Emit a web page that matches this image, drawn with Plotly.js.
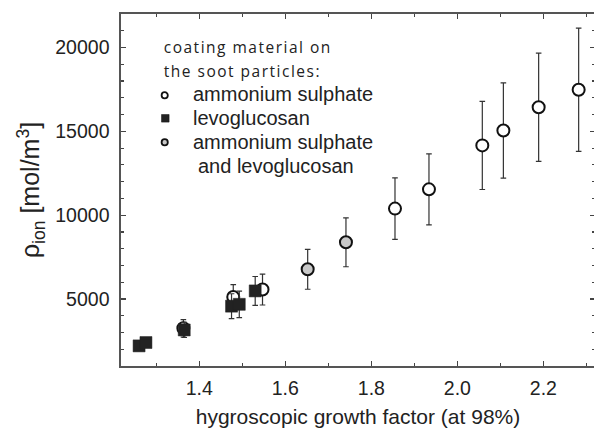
<!DOCTYPE html>
<html>
<head>
<meta charset="utf-8">
<script src="https://cdn.plot.ly/plotly-3.0.1.min.js"></script>
<style>
html, body { margin: 0; padding: 0; overflow: hidden; background: #fff; }
#chart { width: 596px; height: 428px; }
g.annotation[data-index="0"] text, g.annotation[data-index="1"] text { letter-spacing: 1.5px; }
</style>
</head>
<body>
<div id="chart"></div>
<script>
// Ammonium sulphate coating (open circles)
const asX   = [1.363, 1.479, 1.547, 1.855, 1.934, 2.058, 2.107, 2.189, 2.282];
const asY   = [3250, 5120, 5560, 10390, 11540, 14160, 15050, 16440, 17480];
const asErr = [520, 740, 920, 1830, 2120, 2630, 2840, 3230, 3680];

// Levoglucosan coating (filled squares)
const lgX   = [1.260, 1.276, 1.365, 1.475, 1.493, 1.530];
const lgY   = [2200, 2400, 3150, 4570, 4680, 5480];
const lgErr = [160, 180, 450, 740, 790, 860];

// Ammonium sulphate and levoglucosan (grey circles)
const mixX   = [1.652, 1.741];
const mixY   = [6770, 8380];
const mixErr = [1190, 1460];

const legendHeader = ["coating material on", "the soot particles:"];
const legendItems = ["ammonium sulphate", "levoglucosan", "ammonium sulphate", "and levoglucosan"];

const xTitle = "hygroscopic growth factor (at 98%)";
const yTitle = "\u03c1<sub>ion</sub> [mol/m<sup>3</sup>]";

// plot area in pixels (for placing the hand-drawn legend)
const L = 121, R = 595, T = 14, B = 366;
const px = v => (v - L) / (R - L);
const py = v => (B - v) / (B - T);

const errStyle = {type: 'data', visible: true, thickness: 1.2, width: 2.8, color: '#333'};

const traces = [
  {
    x: asX, y: asY, type: 'scatter', mode: 'markers', name: legendItems[0],
    error_y: Object.assign({array: asErr}, errStyle),
    marker: {symbol: 'circle', size: 12, color: '#ffffff', line: {color: '#111', width: 2}}
  },
  {
    x: lgX, y: lgY, type: 'scatter', mode: 'markers', name: legendItems[1],
    error_y: Object.assign({array: lgErr}, errStyle),
    marker: {symbol: 'square', size: 12, color: '#222', line: {color: '#222', width: 0.5}}
  },
  {
    x: mixX, y: mixY, type: 'scatter', mode: 'markers', name: legendItems[2],
    error_y: Object.assign({array: mixErr}, errStyle),
    marker: {symbol: 'circle', size: 12, color: '#c8c8c8', line: {color: '#111', width: 2}}
  }
];

const hdrFont = {family: 'Open Sans, DejaVu Sans, sans-serif', size: 15.5, color: '#222'};
const itemFont = {family: 'Liberation Sans, Arial, sans-serif', size: 20, color: '#222'};

function ann(text, xp, yp, font) {
  return {text: text, xref: 'paper', yref: 'paper', x: px(xp), y: py(yp),
          xanchor: 'left', yanchor: 'middle', showarrow: false, font: font};
}

const annotations = [
  ann(legendHeader[0], 176, 47, hdrFont),
  ann(legendHeader[1], 176, 71, hdrFont),
  ann(legendItems[0], 191, 94, itemFont),
  ann(legendItems[1], 191, 117.5, itemFont),
  ann(legendItems[2], 191, 142, itemFont),
  ann(legendItems[3], 196, 166, itemFont)
];

function sym(type, cx, cy, fill, half) {
  return {type: type, xref: 'paper', yref: 'paper', xsizemode: 'pixel', ysizemode: 'pixel',
          xanchor: px(cx), yanchor: py(cy), x0: -half, x1: half, y0: -half, y1: half,
          fillcolor: fill, line: {color: '#111', width: type === 'rect' ? 0.5 : 1.8}};
}

const shapes = [
  sym('circle', 164.7, 95.3, '#ffffff', 3.1),
  sym('rect', 165.3, 118.3, '#222', 3.8),
  sym('circle', 164.7, 142.3, '#c8c8c8', 3.1)
];

const axisFont = {family: 'Liberation Sans, Arial, sans-serif', size: 19.5, color: '#222'};

const layout = {
  width: 596, height: 428,
  margin: {l: L, r: 596 - R, t: T, b: 428 - B},
  paper_bgcolor: '#fff', plot_bgcolor: '#fff',
  showlegend: false,
  xaxis: {
    range: [1.218, 2.320], tickmode: 'linear', tick0: 1.2, dtick: 0.2, tickformat: '.1f',
    ticks: 'inside', ticklen: 5, tickwidth: 1.2, tickcolor: '#444',
    minor: {dtick: 0.1, tick0: 1.2, ticks: 'inside', ticklen: 3, tickwidth: 1.2, tickcolor: '#444', showgrid: false},
    showline: true, linecolor: '#555', linewidth: 1.6, mirror: 'allticks',
    showgrid: false, zeroline: false, tickfont: axisFont, ticklabelstandoff: 4,
    title: {text: xTitle, font: {family: 'Liberation Sans, Arial, sans-serif', size: 21, color: '#222'}, standoff: 12}
  },
  yaxis: {
    range: [1000, 22000], tickmode: 'linear', tick0: 0, dtick: 5000, tickformat: 'd',
    ticks: 'inside', ticklen: 5, tickwidth: 1.2, tickcolor: '#444',
    minor: {dtick: 1000, tick0: 0, ticks: 'inside', ticklen: 3, tickwidth: 1.2, tickcolor: '#444', showgrid: false},
    showline: true, linecolor: '#555', linewidth: 1.6, mirror: 'allticks',
    showgrid: false, zeroline: false, tickfont: axisFont, ticklabelstandoff: 6,
    title: {text: yTitle, font: {family: 'Liberation Sans, Arial, sans-serif', size: 25, color: '#222'}, standoff: 8}
  },
  annotations: annotations,
  shapes: shapes
};

Plotly.newPlot('chart', traces, layout, {displayModeBar: false, staticPlot: true});
</script>
</body>
</html>
